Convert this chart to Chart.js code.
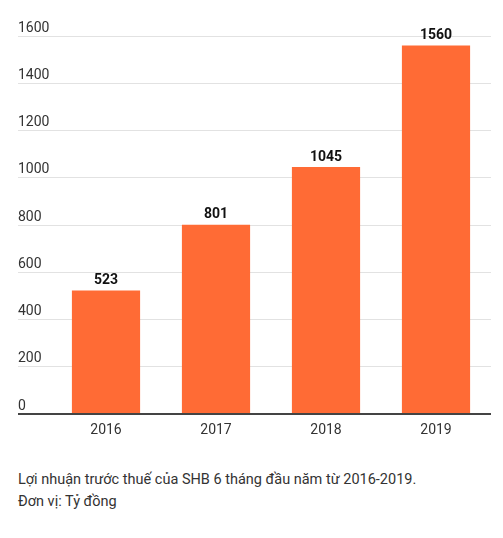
<!DOCTYPE html>
<html>
<head>
<meta charset="utf-8">
<script src="https://cdn.jsdelivr.net/npm/chart.js@4/dist/chart.umd.min.js"></script>
<style>
  body { margin: 0; background: #fff; font-family: Roboto, sans-serif; }
  #wrap { width: 503px; height: 444px; position: relative; }
  .caption { margin: 25px 0 0 18px; color: #333; font-size: 14.5px; line-height: 22px; }
</style>
</head>
<body>
<div id="wrap"><canvas id="chart"></canvas></div>
<div class="caption">Lợi nhuận trước thuế của SHB 6 tháng đầu năm từ 2016-2019.<br>Đơn vị: Tỷ đồng</div>
<script>
const years = ["2016", "2017", "2018", "2019"];
const profit = [523, 801, 1045, 1560];

const valueLabels = {
  id: "valueLabels",
  afterDatasetsDraw(chart) {
    const ctx = chart.ctx;
    const meta = chart.getDatasetMeta(0);
    ctx.save();
    ctx.font = "bold 14px Roboto";
    ctx.fillStyle = "#111";
    ctx.textAlign = "center";
    ctx.textBaseline = "bottom";
    meta.data.forEach((bar, i) => {
      ctx.fillText(profit[i], bar.x, bar.y - 3);
    });
    ctx.restore();
  }
};

new Chart(document.getElementById("chart"), {
  type: "bar",
  data: {
    labels: years,
    datasets: [{
      data: profit,
      backgroundColor: "#ff6b35",
      categoryPercentage: 0.62,
      barPercentage: 1
    }]
  },
  options: {
    responsive: true,
    maintainAspectRatio: false,
    animation: false,
    layout: { padding: { top: 36, left: 18, right: 12, bottom: 0 } },
    plugins: { legend: { display: false }, tooltip: { enabled: false } },
    scales: {
      x: {
        grid: { display: false, drawTicks: false },
        border: { display: false },
        ticks: { color: "#333", font: { family: "Roboto", size: 14 }, padding: 8 },
        afterFit: s => { s.height = 30; }
      },
      y: {
        min: 0,
        max: 1600,
        border: { display: false },
        ticks: {
          stepSize: 200,
          crossAlign: "far",
          labelOffset: -8,
          padding: 0,
          color: "#333",
          font: { family: "Roboto", size: 14 },
          callback: v => String(v)
        },
        grid: {
          tickLength: 33,
          color: c => c.tick && c.tick.value === 0 ? "#444" : "#e2e2e2",
          lineWidth: c => c.tick && c.tick.value === 0 ? 2 : 1
        },
        afterFit: s => { s.width = 33; }
      }
    }
  },
  plugins: [valueLabels]
});
</script>
</body>
</html>
